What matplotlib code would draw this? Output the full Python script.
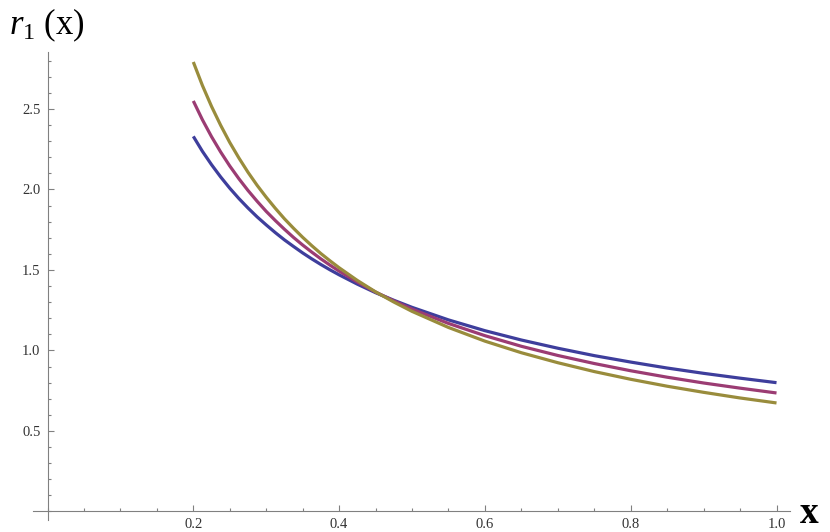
import matplotlib
matplotlib.use("Agg")
import matplotlib.pyplot as plt
from matplotlib.ticker import MultipleLocator, FixedLocator

plt.rcParams['font.family'] = ['Liberation Serif', 'DejaVu Serif']
plt.rcParams['mathtext.fontset'] = 'custom'
plt.rcParams['mathtext.rm'] = 'Liberation Serif'
plt.rcParams['mathtext.it'] = 'Liberation Serif:italic'
plt.rcParams['mathtext.bf'] = 'Liberation Serif:bold'

# values
x = [0.2, 0.2125, 0.225, 0.2375, 0.25, 0.2625, 0.275, 0.2875, 0.3, 0.3125, 0.325,
     0.3375, 0.35, 0.3625, 0.375, 0.3875, 0.4, 0.425, 0.45, 0.475, 0.5,
     0.55, 0.6, 0.65, 0.7, 0.75, 0.8, 0.85, 0.9, 0.95, 1.0]
r_blue = [2.330, 2.237, 2.154, 2.078, 2.008, 1.944, 1.885, 1.830, 1.780, 1.732, 1.687,
          1.646, 1.606, 1.569, 1.534, 1.501, 1.470, 1.412, 1.359, 1.312, 1.268,
          1.190, 1.123, 1.065, 1.014, 0.968, 0.928, 0.891, 0.858, 0.828, 0.800]
r_magenta = [2.550, 2.433, 2.328, 2.233, 2.146, 2.067, 1.994, 1.927, 1.864, 1.807, 1.753,
             1.702, 1.655, 1.611, 1.569, 1.530, 1.493, 1.425, 1.363, 1.308, 1.257,
             1.168, 1.092, 1.026, 0.969, 0.919, 0.874, 0.834, 0.798, 0.766, 0.736]
r_gold = [2.792, 2.646, 2.516, 2.399, 2.292, 2.196, 2.107, 2.026, 1.952, 1.883, 1.818,
          1.759, 1.703, 1.651, 1.602, 1.557, 1.514, 1.435, 1.364, 1.301, 1.243,
          1.143, 1.058, 0.986, 0.924, 0.869, 0.821, 0.778, 0.740, 0.705, 0.674]

x_ticks = [0.2, 0.4, 0.6, 0.8, 1.0]
y_ticks = [0.5, 1.0, 1.5, 2.0, 2.5]

fig = plt.figure(figsize=(8.3, 5.32), dpi=100)
ax = fig.add_axes([33/830, 12/532, 757/830, 468/532])

ax.plot(x, r_blue, color="#3e3e9c", lw=2.3, solid_capstyle="butt")
ax.plot(x, r_magenta, color="#9b3c73", lw=2.3, solid_capstyle="butt")
ax.plot(x, r_gold, color="#998c3c", lw=2.3, solid_capstyle="butt")

ax.set_xlim(-0.0199, 1.0185)
ax.set_ylim(-0.053, 2.854)

for s in ["top", "right"]:
    ax.spines[s].set_visible(False)
ax.spines["left"].set_position(("data", 0))
ax.spines["bottom"].set_position(("data", 0))
for s in ["left", "bottom"]:
    ax.spines[s].set_color("#808080")
    ax.spines[s].set_linewidth(0.8)

ax.xaxis.set_major_locator(FixedLocator(x_ticks))
ax.yaxis.set_major_locator(FixedLocator(y_ticks))
ax.xaxis.set_minor_locator(MultipleLocator(0.05))
ax.yaxis.set_minor_locator(MultipleLocator(0.1))
ax.set_xticklabels([f"{v:.1f}" for v in x_ticks])
ax.set_yticklabels([f"{v:.1f}" for v in y_ticks])
ax.tick_params(which="both", direction="in", colors="#808080", labelcolor="#333333",
               labelsize=10.5, width=0.8)
ax.tick_params(which="major", length=4.5, pad=5)
ax.tick_params(which="minor", length=2.5)

fig.text(9/830, 1 - 34/532, r"$r_1\ (\mathrm{x})$", fontsize=25, ha="left", va="baseline")
fig.text(800/830, 1 - 523/532, "x", fontsize=27, fontweight="bold", ha="left", va="baseline")

fig.savefig("out.png", dpi=100)
